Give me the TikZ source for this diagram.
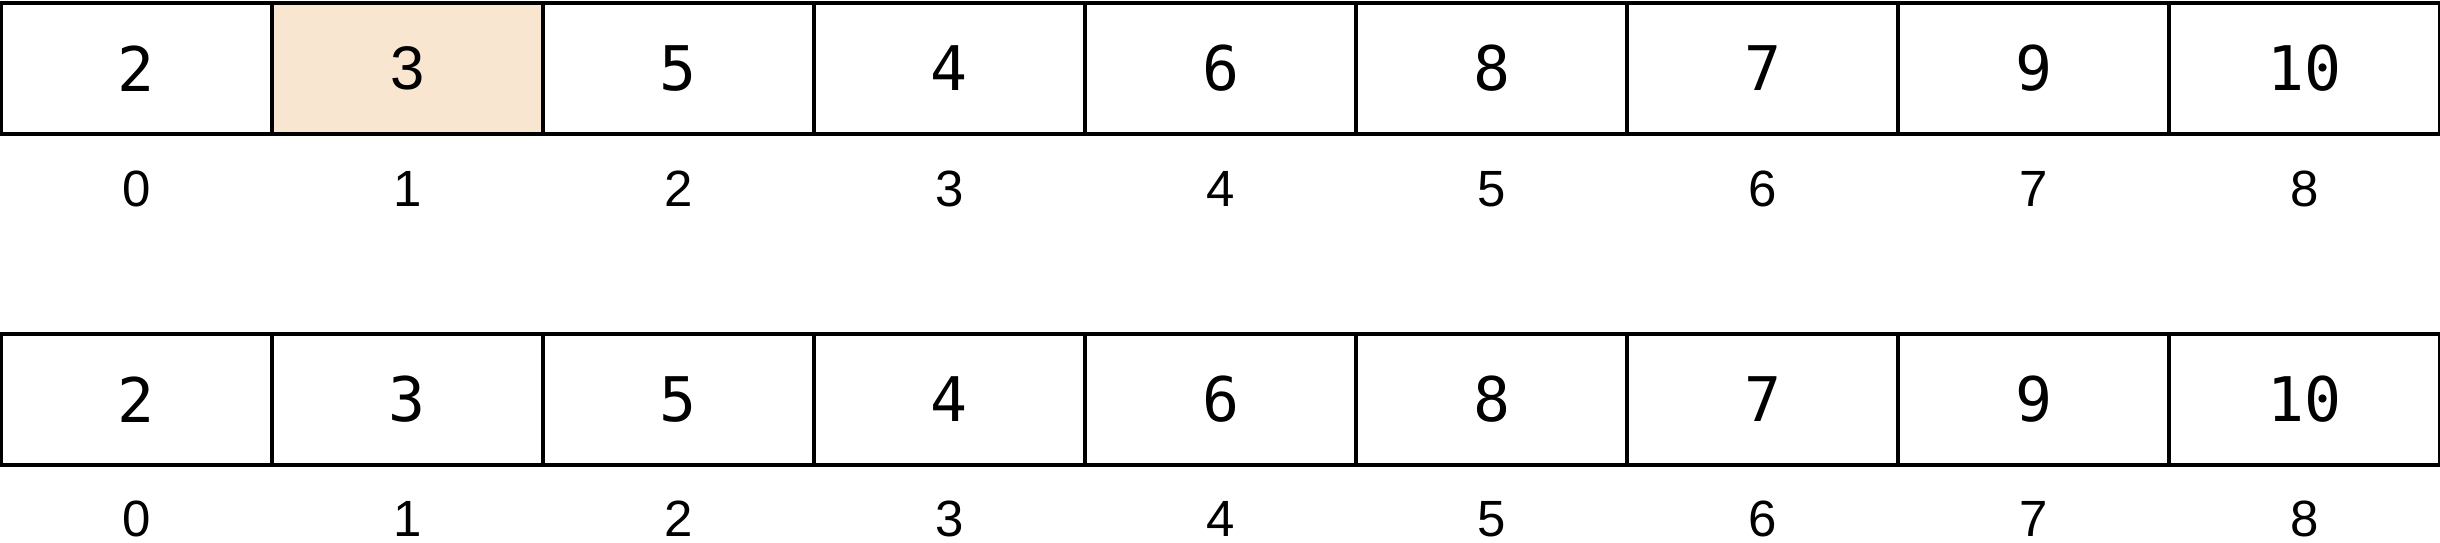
\documentclass[tikz,border=0pt]{standalone}
\usepackage{fontspec}
\setmainfont{Liberation Sans}
\setmonofont{DejaVu Sans Mono}
\definecolor{peach}{RGB}{248,230,208}
\begin{document}
\begin{tikzpicture}
        [cell_style/.style={rectangle,draw=black,line width=0.9pt,inner sep=0pt,
                            minimum width=2.71cm,minimum height=1.31cm,
                            font=\ttfamily\fontsize{17.5}{17.5}\selectfont},
         cell_style_selected/.style={cell_style,fill=peach,
                            font=\rmfamily\fontsize{17.5}{17.5}\selectfont},
         index_style/.style={inner sep=0pt,font=\rmfamily\fontsize{14.5}{14.5}\selectfont}]
            \useasboundingbox (0,0) rectangle (24.4,-5.42);
            % first row
            \node[cell_style] (a0) at (1.365, -0.685) {2};
            \node[cell_style_selected] (a1) at (4.075, -0.685) {3};
            \node[cell_style] (a2) at (6.785, -0.685) {5};
            \node[cell_style] (a3) at (9.495, -0.685) {4};
            \node[cell_style] (a4) at (12.205, -0.685) {6};
            \node[cell_style] (a5) at (14.915, -0.685) {8};
            \node[cell_style] (a6) at (17.625, -0.685) {7};
            \node[cell_style] (a7) at (20.335, -0.685) {9};
            \node[cell_style] (a8) at (23.045, -0.685) {10};
            \node[index_style] (i0) at (1.365, -1.89) {0};
            \node[index_style] (i1) at (4.075, -1.89) {1};
            \node[index_style] (i2) at (6.785, -1.89) {2};
            \node[index_style] (i3) at (9.495, -1.89) {3};
            \node[index_style] (i4) at (12.205, -1.89) {4};
            \node[index_style] (i5) at (14.915, -1.89) {5};
            \node[index_style] (i6) at (17.625, -1.89) {6};
            \node[index_style] (i7) at (20.335, -1.89) {7};
            \node[index_style] (i8) at (23.045, -1.89) {8};
            % second row
            \node[cell_style] (b0) at (1.365, -3.995) {2};
            \node[cell_style] (b1) at (4.075, -3.995) {3};
            \node[cell_style] (b2) at (6.785, -3.995) {5};
            \node[cell_style] (b3) at (9.495, -3.995) {4};
            \node[cell_style] (b4) at (12.205, -3.995) {6};
            \node[cell_style] (b5) at (14.915, -3.995) {8};
            \node[cell_style] (b6) at (17.625, -3.995) {7};
            \node[cell_style] (b7) at (20.335, -3.995) {9};
            \node[cell_style] (b8) at (23.045, -3.995) {10};
            \node[index_style] (j0) at (1.365, -5.19) {0};
            \node[index_style] (j1) at (4.075, -5.19) {1};
            \node[index_style] (j2) at (6.785, -5.19) {2};
            \node[index_style] (j3) at (9.495, -5.19) {3};
            \node[index_style] (j4) at (12.205, -5.19) {4};
            \node[index_style] (j5) at (14.915, -5.19) {5};
            \node[index_style] (j6) at (17.625, -5.19) {6};
            \node[index_style] (j7) at (20.335, -5.19) {7};
            \node[index_style] (j8) at (23.045, -5.19) {8};
        \end{tikzpicture}
\end{document}
